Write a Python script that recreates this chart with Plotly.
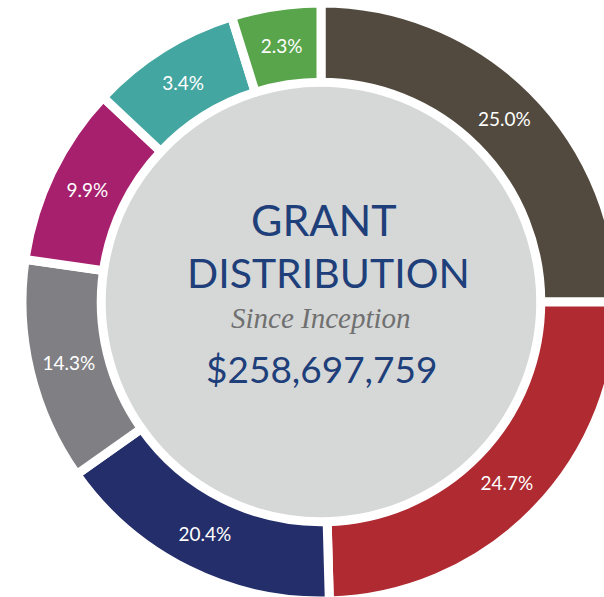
import plotly.graph_objects as go

# Slice angular sizes as drawn (degrees), and their printed labels
categories = ["A", "B", "C", "D", "E", "F", "G"]
slice_sizes = [90.0, 88.4, 56.4, 43.4, 35.0, 29.4, 17.4]
pct_labels = ["25.0%", "24.7%", "20.4%", "14.3%", "9.9%", "3.4%", "2.3%"]
colors = ["#524a3e", "#b02a31", "#232e6a", "#807f84", "#a7206e", "#44a6a0", "#58a54c"]

title_line1 = "GRANT"
title_line2 = "DISTRIBUTION"
subtitle = "Since Inception"
total_text = "$258,697,759"

W, H = 640, 610
CX, CY, R = 321, 302, 299
INNER_R = 216


def px(x):
    return x / W


def py(y):
    return 1 - y / H


fig = go.Figure(
    go.Pie(
        labels=categories,
        values=slice_sizes,
        text=pct_labels,
        textinfo="text",
        textposition="inside",
        insidetextorientation="horizontal",
        textfont=dict(family="Lato", size=19, color="white"),
        sort=False,
        direction="clockwise",
        rotation=0,
        hole=0.735,
        marker=dict(colors=colors, line=dict(color="white", width=9)),
        domain=dict(x=[px(CX - R), px(CX + R)], y=[py(CY + R), py(CY - R)]),
        showlegend=False,
        hoverinfo="skip",
    )
)

fig.add_shape(
    type="circle", xref="paper", yref="paper",
    x0=px(CX - INNER_R), x1=px(CX + INNER_R),
    y0=py(CY + INNER_R), y1=py(CY - INNER_R),
    fillcolor="#d6d8d8", line=dict(width=0), layer="below",
)

navy = "#1e3f7a"
fig.add_annotation(x=px(CX + 3), y=py(220), xref="paper", yref="paper", text=title_line1,
                   showarrow=False, xanchor="center", yanchor="middle",
                   font=dict(family="Lato", size=43, color=navy))
fig.add_annotation(x=px(CX + 7), y=py(272), xref="paper", yref="paper", text=title_line2,
                   showarrow=False, xanchor="center", yanchor="middle",
                   font=dict(family="Lato", size=41, color=navy))
fig.add_annotation(x=px(CX), y=py(318), xref="paper", yref="paper", text="<i>" + subtitle + "</i>",
                   showarrow=False, xanchor="center", yanchor="middle",
                   font=dict(family="Liberation Serif", size=29, color="#707070"))
fig.add_annotation(x=px(CX), y=py(368), xref="paper", yref="paper", text=total_text,
                   showarrow=False, xanchor="center", yanchor="middle",
                   font=dict(family="Lato", size=37, color=navy))

fig.update_layout(
    width=W, height=H,
    margin=dict(l=0, r=0, t=0, b=0),
    paper_bgcolor="white", plot_bgcolor="white",
)

fig.write_html(
    "out.html",
    config={"displayModeBar": False},
    post_script="document.body.style.margin='0';document.body.style.overflow='hidden';",
)
